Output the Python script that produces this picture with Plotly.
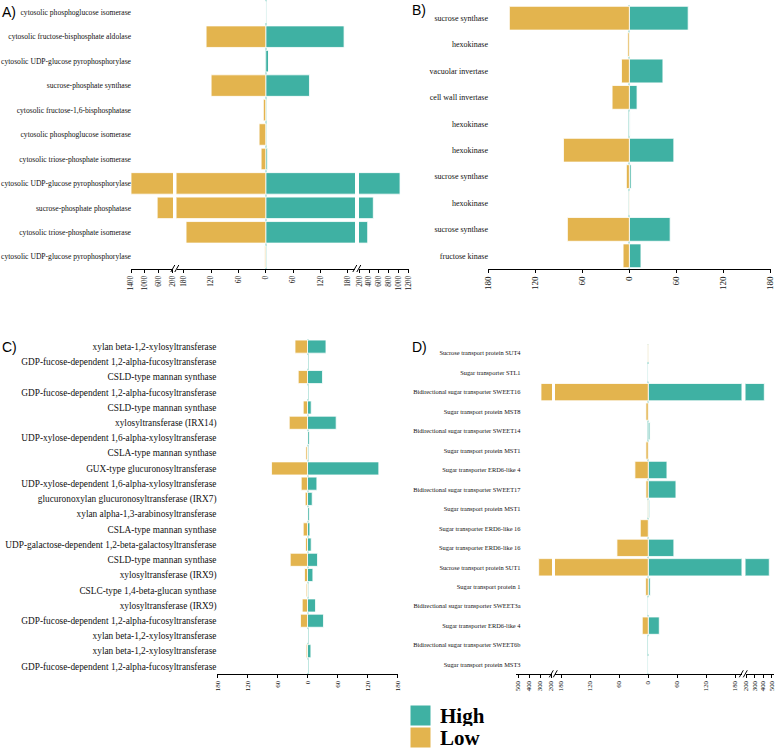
import plotly.graph_objects as go

W, H = 778, 748
TEAL = "#3FB1A3"
GOLD = "#E3B44E"
ZERO = "#BFE6E0"
SERIF = "Liberation Serif"

# ---------------- data ----------------
a_labels = ["cytosolic phosphoglucose isomerase", "cytosolic fructose-bisphosphate aldolase",
            "cytosolic UDP-glucose pyrophosphorylase", "sucrose-phosphate synthase",
            "cytosolic fructose-1,6-bisphosphatase", "cytosolic phosphoglucose isomerase",
            "cytosolic triose-phosphate isomerase", "cytosolic UDP-glucose pyrophosphorylase",
            "sucrose-phosphate phosphatase", "cytosolic triose-phosphate isomerase",
            "cytosolic UDP-glucose pyrophosphorylase"]
a_high = [0, 172, 6.5, 96, 0, 0, 3.5, 1028, 486, 372, 0]
a_low = [0, 131, 0, 120, 5.3, 14.6, 10.2, 1400, 650, 175, 2]

b_labels = ["sucrose synthase", "hexokinase", "vacuolar invertase", "cell wall invertase",
            "hexokinase", "hexokinase", "sucrose synthase", "hexokinase",
            "sucrose synthase", "fructose kinase"]
b_high = [75, 0, 42.8, 9.8, 1, 56.7, 2.2, 0.5, 52, 14.8]
b_low = [153, 2, 10, 22, 0, 84, 3.8, 0.5, 79, 8]

c_labels = ["xylan beta-1,2-xylosyltransferase", "GDP-fucose-dependent 1,2-alpha-fucosyltransferase",
            "CSLD-type mannan synthase", "GDP-fucose-dependent 1,2-alpha-fucosyltransferase",
            "CSLD-type mannan synthase", "xylosyltransferase (IRX14)",
            "UDP-xylose-dependent 1,6-alpha-xylosyltransferase", "CSLA-type mannan synthase",
            "GUX-type glucuronosyltransferase", "UDP-xylose-dependent 1,6-alpha-xylosyltransferase",
            "glucuronoxylan glucuronosyltransferase (IRX7)", "xylan alpha-1,3-arabinosyltransferase",
            "CSLA-type mannan synthase", "UDP-galactose-dependent 1,2-beta-galactosyltransferase",
            "CSLD-type mannan synthase", "xylosyltransferase (IRX9)",
            "CSLC-type 1,4-beta-glucan synthase", "xylosyltransferase (IRX9)",
            "GDP-fucose-dependent 1,2-alpha-fucosyltransferase", "xylan beta-1,2-xylosyltransferase",
            "xylan beta-1,2-xylosyltransferase", "GDP-fucose-dependent 1,2-alpha-fucosyltransferase"]
c_high = [37, 0, 30, 0, 7.4, 57.4, 3.4, 0.5, 142.8, 18.8, 9.4, 3.4, 4.8, 7.4, 20, 10.8, 1, 16, 32, 0, 6.8, 0]
c_low = [25, 0, 18.6, 0, 8.6, 36.6, 0.5, 3.2, 72, 12.6, 4.6, 0.5, 8.6, 4, 34.6, 6, 2.6, 10.6, 14, 0, 2.6, 0]

d_labels = ["Sucrose transport protein SUT4", "Sugar transporter STL1",
            "Bidirectional sugar transporter SWEET16", "Sugar transport protein MST8",
            "Bidirectional sugar transporter SWEET14", "Sugar transport protein MST1",
            "Sugar transporter ERD6-like 4", "Bidirectional sugar transporter SWEET17",
            "Sugar transport protein MST1", "Sugar transporter ERD6-like 16",
            "Sugar transporter ERD6-like 16", "Sucrose transport protein SUT1",
            "Sugar transport protein 1", "Bidirectional sugar transporter SWEET3a",
            "Sugar transporter ERD6-like 4", "Bidirectional sugar transporter SWEET6b",
            "Sugar transport protein MST3"]
d_high = [0, 0, 412, 0, 4, 0, 38.7, 57.3, 2.8, 0, 53, 470, 4, 0, 22.8, 1, 0]
d_low = [1.5, 0, 293, 4.8, 0, 4.8, 27.6, 4.8, 1, 16.5, 64.8, 314, 5.4, 0, 12.4, 0, 0]

main_ticks = [180, 120, 60, 0, 60, 120, 180]
a_left_ticks = [1400, 1000, 600, 200]
a_right_ticks = [200, 400, 600, 800, 1000, 1200]
d_left_ticks = [500, 400, 300, 200]
d_right_ticks = [200, 300, 400, 500]


def fx(px):
    return px / W


def fy(py):
    return 1 - py / H


fig = go.Figure()
layout = {}


def add_bars(xa, ya, high, low, width):
    idx = list(range(len(high)))
    fig.add_trace(go.Bar(y=idx, x=high, orientation="h", xaxis=xa, yaxis=ya, width=width,
                         marker=dict(color=TEAL, line=dict(color="white", width=0.8)),
                         showlegend=False, name="High"))
    fig.add_trace(go.Bar(y=idx, x=[-v for v in low], orientation="h", xaxis=xa, yaxis=ya, width=width,
                         marker=dict(color=GOLD, line=dict(color="white", width=0.8)),
                         showlegend=False, name="Low"))


def xaxis(name, dom_px, rng, ticks, signs, anchor, fsize, zero=False):
    layout[name] = dict(
        domain=[fx(dom_px[0]), fx(dom_px[1])], range=rng, anchor=anchor, automargin=False,
        tickvals=[s * t for s, t in zip(signs, ticks)], ticktext=[str(t) for t in ticks],
        tickangle=-90, tickfont=dict(family=SERIF, size=fsize, color="#111"),
        showline=True, linecolor="black", linewidth=1, ticks="outside", ticklen=3,
        tickcolor="black", showgrid=False, zeroline=zero, zerolinecolor=ZERO,
        zerolinewidth=1.5, fixedrange=True)


def yaxis(name, dom_px, labels, anchor, fsize, position=None):
    n = len(labels)
    d = dict(domain=[fy(dom_px[1]), fy(dom_px[0])], range=[n - 0.5, -0.5], automargin=False,
             tickvals=list(range(n)), ticktext=labels, ticks="", showline=False,
             showgrid=False, zeroline=False, tickfont=dict(family=SERIF, size=fsize, color="#111"),
             fixedrange=True)
    if position is None:
        d["anchor"] = anchor
    else:
        d["anchor"] = "free"
        d["position"] = fx(position)
    layout[name] = d


main_signs = [-1, -1, -1, 1, 1, 1, 1]

# ---------------- Panel A ----------------
A_BRK = 196
xaxis("xaxis", (131, 173), [-1400.5, -A_BRK], a_left_ticks, [-1] * 4, "y", 7.3)
xaxis("xaxis2", (176.5, 355), [-A_BRK, A_BRK], main_ticks, main_signs, "y", 7.3, zero=True)
xaxis("xaxis3", (359, 409), [A_BRK, 1210], a_right_ticks, [1] * 6, "y", 7.3)
yaxis("yaxis", (0, 269), a_labels, "x", 7.6, position=131)
for xa in ["x", "x2", "x3"]:
    add_bars(xa, "y", a_high, a_low, 0.88)

# ---------------- Panel B ----------------
xaxis("xaxis4", (487.7, 771), [-180.6, 180.6], main_ticks, main_signs, "y2", 9, zero=True)
yaxis("yaxis2", (5, 269), b_labels, "x4", 8, position=488)
add_bars("x4", "y2", b_high, b_low, 0.9)

# ---------------- Panel C ----------------
xaxis("xaxis5", (217.3, 397.7), [-180.6, 180.6], main_ticks, main_signs, "y3", 7, zero=True)
yaxis("yaxis3", (339, 674), c_labels, "x5", 9.3, position=216.5)
add_bars("x5", "y3", c_high, c_low, 0.86)

# ---------------- Panel D ----------------
D_BRK = 193
xaxis("xaxis6", (516, 552), [-520, -D_BRK], d_left_ticks, [-1] * 4, "y4", 6.8)
xaxis("xaxis7", (555, 741.5), [-D_BRK, D_BRK], main_ticks, main_signs, "y4", 6.8, zero=True)
xaxis("xaxis8", (745.5, 774), [D_BRK, 525], d_right_ticks, [1] * 4, "y4", 6.8)
yaxis("yaxis4", (343.5, 674.3), d_labels, "x6", 6.4, position=520.5)
for xa in ["x6", "x7", "x8"]:
    add_bars(xa, "y4", d_high, d_low, 0.89)

# ---------------- decorations ----------------
shapes = []


def brk(bx, by):
    for off in (-2.2, 1.8):
        shapes.append(dict(type="line", xref="paper", yref="paper",
                           x0=fx(bx + off - 2), y0=fy(by + 3), x1=fx(bx + off + 2), y1=fy(by - 4),
                           line=dict(color="black", width=1)))


brk(175, 269)
brk(357, 269)
brk(553.5, 674.3)
brk(743.5, 674.3)

# legend keys
shapes.append(dict(type="rect", xref="paper", yref="paper", x0=fx(410), x1=fx(431),
                   y0=fy(726), y1=fy(705), fillcolor=TEAL, line=dict(color="white", width=1)))
shapes.append(dict(type="rect", xref="paper", yref="paper", x0=fx(410), x1=fx(431),
                   y0=fy(748), y1=fy(727), fillcolor=GOLD, line=dict(color="white", width=1)))

annotations = []
for txt, px, py in [("A)", 0, 12), ("B)", 410, 10), ("C)", 0, 347), ("D)", 410, 347)]:
    annotations.append(dict(text=txt, x=fx(px), y=fy(py), xref="paper", yref="paper",
                            xanchor="left", yanchor="middle", showarrow=False,
                            font=dict(family="Liberation Sans", size=14, color="black")))
for txt, py in [("High", 715.5), ("Low", 737)]:
    annotations.append(dict(text=txt, x=fx(438), y=fy(py), xref="paper", yref="paper",
                            xanchor="left", yanchor="middle", showarrow=False, height=21,
                            font=dict(family=SERIF, size=21, color="black", weight="bold")))

fig.update_layout(
    width=W, height=H, margin=dict(l=0, r=0, t=0, b=0),
    paper_bgcolor="white", plot_bgcolor="rgba(0,0,0,0)",
    barmode="relative", showlegend=False,
    shapes=shapes, annotations=annotations, **layout)

fig.write_html("out.html", config={"displayModeBar": False},
               post_script="document.body.style.margin='0px';document.body.style.overflow='hidden';")
